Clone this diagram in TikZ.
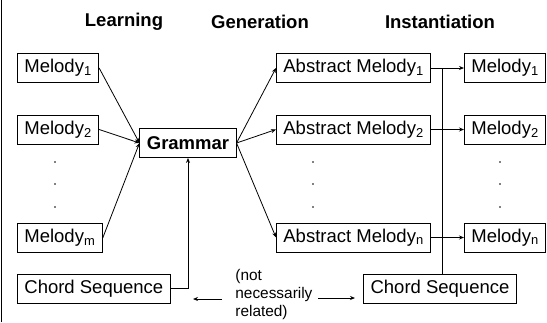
\documentclass[tikz,border=0pt]{standalone}
\usepackage{fontspec}
\setmainfont{Liberation Sans}
\usetikzlibrary{positioning,calc,arrows.meta}
\tikzset{>={Stealth[length=5pt,width=4pt]}}

\begin{document}
\begin{tikzpicture}[
    x=1pt, y=-1pt,
    line width=0.8pt,
    font=\fontsize{18.5}{22}\selectfont,
    box/.style={draw, minimum height=29pt, inner xsep=7pt, inner ysep=2pt},
    header/.style={font=\fontsize{18.5}{22}\selectfont\bfseries},
    note/.style={font=\fontsize{15.4}{18}\selectfont, align=left, inner sep=0pt},
    dot/.style={circle, fill, inner sep=0pt, minimum size=1.8pt}
]
\useasboundingbox (0,0) rectangle (547,322);
\draw (1,0) -- (1,322);

% column headers
\node[header] (learn) at (124,22) {Learning};
\node[header] (gen) at (260,22) {Generation};
\node[header] (inst) at (440,22) {Instantiation};

% learning
\node[box, anchor=west] (m1) at (17,68) {Melody\textsubscript{1}};
\node[box, anchor=west] (m2) at (17,129.5) {Melody\textsubscript{2}};
\node[box, anchor=west] (mm) at (17,238) {Melody\textsubscript{m}};
\node[box, anchor=west] (cl) at (17,288.5) {Chord Sequence};
\node[box, font=\fontsize{18.5}{22}\selectfont\bfseries] (g) at (188,143) {Grammar};

% generation
\node[box, anchor=west] (a1) at (276,68) {Abstract Melody\textsubscript{1}};
\node[box, anchor=west] (a2) at (276,129.5) {Abstract Melody\textsubscript{2}};
\node[box, anchor=west] (an) at (276,237.5) {Abstract Melody\textsubscript{n}};

% instantiation
\node[box, anchor=west] (r1) at (464,68) {Melody\textsubscript{1}};
\node[box, anchor=west] (r2) at (464,129.5) {Melody\textsubscript{2}};
\node[box, anchor=west] (rn) at (464,237.5) {Melody\textsubscript{n}};
\node[box] (cr) at (440,289) {Chord Sequence};

% vertical dots
\foreach \x/\col in {55/l, 313/a, 500/r}
  \foreach \y [count=\i] in {162,184,207}
    \node[dot] (d\col\i) at (\x,\y) {};

\node[note, anchor=west] (rel) at (235,295) {(not\\necessarily\\related)};
\coordinate (na) at (222,299);
\coordinate (nb) at (193,299);
\coordinate (nc) at (318,298);
\coordinate (nd) at (355,298);

\draw[->] (m1.east) -- (g.west);
\draw[->] (m2.east) -- (g.west);
\draw[->] (mm.east) -- (g.west);
\draw[->] (cl.east) -| (g.south);

\draw[->] (g.east) -- (a1.west);
\draw[->] (g.east) -- (a2.west);
\draw[->] (g.east) -- (an.west);

\draw[->] (a1.east) -- (r1.west);
\draw[->] (a2.east) -- (r2.west);
\draw[->] (an.east) -- (rn.west);
\coordinate (split) at ($(a1.east)!0.33!(r1.west)$);
\draw (split) -- (split |- cr.north);

\draw[->] (na) -- (nb);
\draw[->] (nc) -- (nd);
\end{tikzpicture}
\end{document}
